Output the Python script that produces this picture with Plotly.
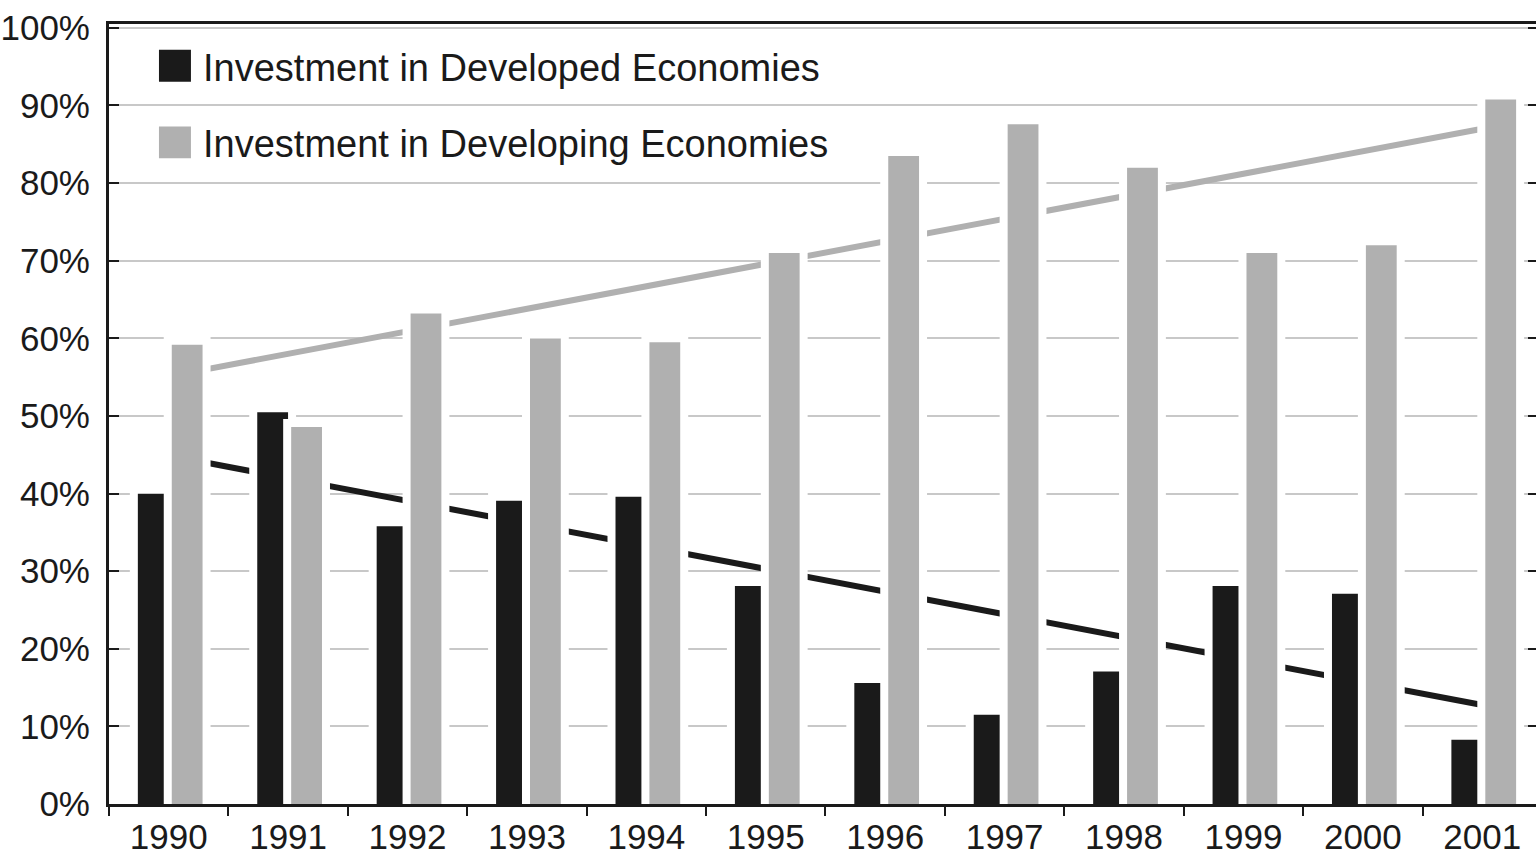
import plotly.graph_objects as go

years = ["1990", "1991", "1992", "1993", "1994", "1995", "1996", "1997", "1998", "1999", "2000", "2001"]
developed = [40.0, 50.5, 35.8, 39.1, 39.6, 28.1, 15.6, 11.5, 17.1, 28.1, 27.1, 8.3]
developing = [59.2, 48.6, 63.2, 60.0, 59.5, 71.0, 83.5, 87.6, 82.0, 71.0, 72.0, 90.8]
series_names = ["Investment in Developed Economies", "Investment in Developing Economies"]
trend_x = ["1990", "2001"]
trend_developed = [44.9, 12.75]
trend_developing = [55.1, 87.0]
y_ticks = [0, 10, 20, 30, 40, 50, 60, 70, 80, 90, 100]
y_tick_text = [f"{v}%" for v in y_ticks]

BLACK = "#1a1a1a"
GRAY = "#b0b0b0"
GRID = "#c8c8c8"
FONT = "Liberation Sans, Arial, sans-serif"

W, H = 1536, 856
ML, MR, MT, MB = 108, 0, 24, 48
xr = [-0.5, 11.45]
yr = [0, 100.5]
BAR_BASE = -2      # extends bar bottoms under the axis line (clipped)
STROKE_PAD = 0.5   # compensates the inner half of the white bar outline (in axis units)

fig = go.Figure()

# trend lines on base subplot (drawn beneath the bars)
fig.add_trace(go.Scatter(x=trend_x, y=trend_developing, mode="lines",
                         line=dict(color=GRAY, width=6), showlegend=False,
                         xaxis="x", yaxis="y", hoverinfo="skip"))
fig.add_trace(go.Scatter(x=trend_x, y=trend_developed, mode="lines",
                         line=dict(color=BLACK, width=6), showlegend=False,
                         xaxis="x", yaxis="y", hoverinfo="skip"))

# bars on overlay subplot
fig.add_trace(go.Bar(x=years, y=[v - BAR_BASE + STROKE_PAD for v in developed], base=BAR_BASE,
                     name=series_names[0], width=0.325, offset=-0.292,
                     marker=dict(color=BLACK, line=dict(color="white", width=8)),
                     xaxis="x2", yaxis="y2", showlegend=False))
fig.add_trace(go.Bar(x=years, y=[v - BAR_BASE + STROKE_PAD for v in developing], base=BAR_BASE,
                     name=series_names[1], width=0.325, offset=-0.008,
                     marker=dict(color=GRAY, line=dict(color="white", width=8)),
                     xaxis="x2", yaxis="y2", showlegend=False))

shapes = []
annotations = []
pw = W - ML - MR
ph = H - MT - MB
leg_rows = [(series_names[0], BLACK, 66), (series_names[1], GRAY, 143)]
for name, col, cy in leg_rows:
    shapes.append(dict(type="rect", xref="paper", yref="paper",
                       x0=(158 - ML) / pw, x1=(190 - ML) / pw,
                       y0=1 - (cy + 16 - MT) / ph, y1=1 - (cy - 16 - MT) / ph,
                       fillcolor=col, line=dict(width=0), layer="above"))
    annotations.append(dict(text=name, xref="paper", yref="paper",
                            x=(200 - ML) / pw, y=1 - (cy + 2 - MT) / ph,
                            xanchor="left", yanchor="middle", showarrow=False,
                            font=dict(family=FONT, size=38, color=BLACK)))

fig.update_layout(
    width=W, height=H,
    margin=dict(l=ML, r=MR, t=MT, b=MB, pad=0),
    paper_bgcolor="white", plot_bgcolor="white",
    barmode="overlay",
    showlegend=False,
    font=dict(family=FONT, size=34, color=BLACK),
    xaxis=dict(type="category", categoryorder="array", categoryarray=years,
               range=xr, showgrid=False, showline=True, linecolor=BLACK, linewidth=3,
               mirror=True, ticks="outside", tickson="boundaries", ticklen=9,
               tickwidth=2, tickcolor=BLACK, tickfont=dict(size=35, color=BLACK),
               fixedrange=True, layer="above traces"),
    yaxis=dict(range=yr, tickmode="array", tickvals=y_ticks, ticktext=y_tick_text,
               showgrid=True, gridcolor=GRID, gridwidth=2, showline=True, linecolor=BLACK,
               linewidth=3, ticks="inside", ticklen=10, tickwidth=2, tickcolor=BLACK,
               tickfont=dict(size=35, color=BLACK), zeroline=False,
               ticklabelstandoff=9, layer="above traces"),
    xaxis2=dict(type="category", categoryorder="array", categoryarray=years,
                range=xr, overlaying="x", visible=False),
    yaxis2=dict(range=yr, overlaying="y", side="right", tickvals=y_ticks,
                showticklabels=False, showgrid=False, zeroline=False, showline=False,
                ticks="inside", ticklen=8, tickwidth=2, tickcolor=BLACK),
    shapes=shapes,
    annotations=annotations,
)

fig.write_html("out.html")
